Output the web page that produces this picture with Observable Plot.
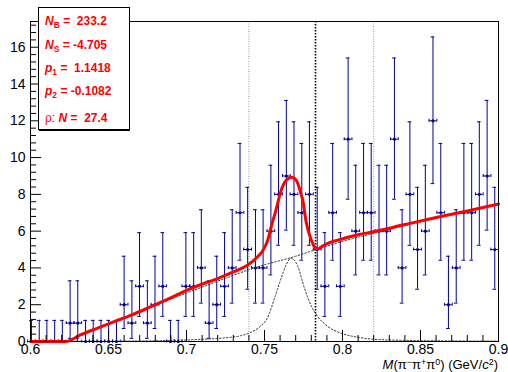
<!DOCTYPE html>
<html><head><meta charset="utf-8">
<script src="https://cdn.jsdelivr.net/npm/d3@7"></script>
<script src="https://cdn.jsdelivr.net/npm/@observablehq/plot@0.6"></script>
<style>
html,body{margin:0;padding:0;background:#fff;}
#chart{width:508px;height:372px;}
</style>
</head><body><div id="chart"></div>
<script>
// ---- data ----
const binMass = [0.6006,0.6056,0.6105,0.6155,0.6204,0.6254,0.6303,0.6353,0.6402,0.6452,
  0.6501,0.6551,0.6600,0.6650,0.6699,0.6749,0.6798,0.6848,0.6897,0.6947,
  0.6996,0.7046,0.7095,0.7145,0.7194,0.7244,0.7293,0.7343,0.7392,0.7442,
  0.7491,0.7541,0.7590,0.7640,0.7689,0.7739,0.7788,0.7838,0.7887,0.7937,
  0.7986,0.8036,0.8085,0.8135,0.8184,0.8234,0.8283,0.8333,0.8382,0.8432,
  0.8481,0.8531,0.8580,0.8630,0.8679,0.8729,0.8778,0.8828,0.8877,0.8927,0.8976];
const binCount = [0,0,0,0,0,1,1,0,0,0,
  0,0,2,1,3,1,2,3,0,0,
  3,3,4,1,2,3,4,7,5,4,
  4,6,8,9,8,7,8,5,3,7,
  3,11,6,7,7,6,6,11,4,8,
  5,6,12,7,2,4,7,7,8,9,5];
// Poisson (68.3%) asymmetric errors, indexed by count
const poissonErrLow  = [0,0.827,1.292,1.633,1.914,2.159,2.379,2.580,2.768,2.943,3.108,3.264,3.414];
const poissonErrHigh = [1.148,2.299,2.637,2.918,3.162,3.382,3.583,3.770,3.944,4.108,4.265,4.416,4.559];
const binHalfWidth = 0.002475;

// total fit (red)
const totalMass  = [0.600,0.6225,0.632,0.643,0.654,0.665,0.675,0.687,0.700,0.712,0.720,0.730,0.739,0.7456,0.749,0.752,0.7545,0.7575,0.7606,0.7638,0.7675,0.7705,0.7735,0.7745,0.7767,0.7799,0.782,0.7842,0.7865,0.7884,0.7991,0.810,0.8205,0.840,0.860,0.880,0.900];
const totalValue = [0,0,0.36,0.73,1.09,1.45,1.81,2.26,2.78,3.18,3.42,3.78,4.14,4.61,4.95,5.5,6.3,7.2,8.2,8.75,8.93,8.75,8.0,7.7,6.5,5.55,5.15,5.03,5.15,5.25,5.56,5.8,5.98,6.36,6.74,7.1,7.48];
// background (dotted)
const bgMass  = [0.600,0.6225,0.632,0.643,0.654,0.665,0.675,0.687,0.700,0.712,0.725,0.740,0.752,0.767,0.782,0.799,0.820,0.840,0.860,0.880,0.900];
const bgValue = [0,0,0.36,0.72,1.08,1.43,1.78,2.2,2.64,3.02,3.44,3.9,4.22,4.56,4.97,5.42,5.88,6.3,6.7,7.09,7.46];
// signal (dotted)
const sigMass  = [0.600,0.660,0.690,0.710,0.725,0.735,0.7413,0.747,0.752,0.757,0.7607,0.7638,0.767,0.7713,0.7756,0.7799,0.7842,0.7906,0.7991,0.810,0.8205,0.840,0.870,0.900];
const sigValue = [0,0.02,0.06,0.12,0.2,0.32,0.5,0.8,1.3,2.5,3.45,4.15,4.53,4.1,2.9,1.95,1.35,0.81,0.45,0.23,0.12,0.06,0.03,0.02];

const windowLines = [0.74, 0.82];
const omegaLine = [0.7827];

const xMajorTicks = [0.6,0.65,0.7,0.75,0.8,0.85,0.9];
const xMajorLabels = ["0.6","0.65","0.7","0.75","0.8","0.85","0.9"];
const xMinorTicks = [0.61,0.62,0.63,0.64,0.66,0.67,0.68,0.69,0.71,0.72,0.73,0.74,0.76,0.77,0.78,0.79,0.81,0.82,0.83,0.84,0.86,0.87,0.88,0.89];
const yMajorTicks = [0,2,4,6,8,10,12,14,16];
const yMajorLabels = ["0","2","4","6","8","10","12","14","16"];
const yMinorTicks = [0.4,0.8,1.2,1.6,2.4,2.8,3.2,3.6,4.4,4.8,5.2,5.6,6.4,6.8,7.2,7.6,8.4,8.8,9.2,9.6,10.4,10.8,11.2,11.6,12.4,12.8,13.2,13.6,14.4,14.8,15.2,15.6,16.4,16.8,17.2];

const legendEntries = [
  {sym:"N", sub:"B", pre:"", val:" =  233.2"},
  {sym:"N", sub:"S", pre:"", val:" = -4.705"},
  {sym:"p", sub:"1", pre:"", val:" =  1.1418"},
  {sym:"p", sub:"2", pre:"", val:" = -0.1082"},
  {sym:"N", sub:"", pre:"ρ: ", val:" =  27.4"}
];

// ---- build ----
const blue = "#000099";
const pts = binMass.map((m,i)=>{
  const n = binCount[i];
  return {m, n, lo: n - poissonErrLow[n], hi: n + poissonErrHigh[n]};
});
const toPts = (xs, ys) => xs.map((x,i)=>({x, y: ys[i]}));
const total = toPts(totalMass, totalValue);
const bg = toPts(bgMass, bgValue);
const sig = toPts(sigMass, sigValue);
const capW = 0.0012, capH = 0.08;
const font = "'Liberation Sans', Arial, Helvetica, sans-serif";

const plot = Plot.plot({
  width: 508, height: 372,
  marginLeft: 30, marginRight: 10, marginTop: 21, marginBottom: 31,
  x: {domain: [0.6, 0.9]},
  y: {domain: [0, 17.4]},
  style: {fontFamily: font, fontSize: "14px", background: "white", color: "black"},
  marks: [
    Plot.ruleX(windowLines, {stroke: "#999", strokeWidth: 1, strokeDasharray: "1,1.5"}),
    Plot.ruleX(omegaLine, {stroke: "#000", strokeWidth: 1.6, strokeDasharray: "1.5,1.5"}),
    // vertical error bars with caps
    Plot.ruleX(pts, {x: "m", y1: "lo", y2: "hi", stroke: blue, strokeWidth: 1}),
    Plot.ruleY(pts, {y: "hi", x1: d => d.m - capW, x2: d => d.m + capW, stroke: blue}),
    Plot.ruleY(pts, {y: "lo", x1: d => d.m - capW, x2: d => d.m + capW, stroke: blue}),
    // horizontal error bars with caps
    Plot.ruleY(pts, {y: "n", x1: d => d.m - binHalfWidth, x2: d => d.m + binHalfWidth, stroke: blue}),
    Plot.ruleX(pts, {x: d => d.m - binHalfWidth, y1: d => d.n - capH, y2: d => d.n + capH, stroke: blue}),
    Plot.ruleX(pts, {x: d => d.m + binHalfWidth, y1: d => d.n - capH, y2: d => d.n + capH, stroke: blue}),
    Plot.dot(pts, {x: "m", y: "n", r: 1.6, fill: blue, stroke: null}),
    // fit curves
    Plot.line(sig, {x: "x", y: "y", stroke: "#333", strokeWidth: 1, strokeDasharray: "1.5,2", curve: "monotone-x"}),
    Plot.line(bg, {x: "x", y: "y", stroke: "#333", strokeWidth: 1, strokeDasharray: "1.5,2", curve: "monotone-x"}),
    Plot.line(total, {x: "x", y: "y", stroke: "#ff0000", strokeWidth: 3, curve: "monotone-x"}),
    Plot.frame({stroke: "black", strokeWidth: 1}),
    // axes: ticks inside the frame
    Plot.axisX({ticks: xMinorTicks, tickSize: -6, tickFormat: () => "", label: null}),
    Plot.axisX({ticks: xMajorTicks, tickSize: -11, tickPadding: 14, label: null, fontSize: 14,
      tickFormat: d => xMajorLabels[xMajorTicks.indexOf(d)]}),
    Plot.axisY({ticks: yMinorTicks, tickSize: -6, tickFormat: () => "", label: null}),
    Plot.axisY({ticks: yMajorTicks, tickSize: -11, tickPadding: 16, label: null, fontSize: 14,
      tickFormat: d => yMajorLabels[yMajorTicks.indexOf(d)]})
  ]
});
document.getElementById("chart").appendChild(plot);

const svg = d3.select(plot);
const xs = plot.scale("x");

// axis title
const title = svg.append("text")
  .attr("x", xs.apply(0.9)).attr("y", 368.5)
  .attr("text-anchor", "end")
  .attr("font-family", font).attr("font-size", 13).attr("fill", "black");
const parts = [
  ["M", {italic: true}], ["(π"], ["−", {sup: true}], ["π"], ["+", {sup: true}], ["π"], ["0", {sup: true}],
  [") (GeV/"], ["c", {italic: true}], ["2", {sup: true}], [")"]
];
let shifted = false;
for (const [t, o = {}] of parts) {
  const ts = title.append("tspan").text(t);
  if (o.italic) ts.attr("font-style", "italic");
  if (o.sup) { ts.attr("font-size", 9).attr("dy", shifted ? 0 : -4); shifted = true; }
  else if (shifted) { ts.attr("dy", 4); shifted = false; }
}

// parameter box
const box = svg.append("g").attr("text-anchor", "start");
box.append("rect").attr("x", 38.5).attr("y", 7.5).attr("width", 91).attr("height", 122)
  .attr("fill", "white").attr("stroke", "black").attr("stroke-width", 1);
box.append("line").attr("x1", 39).attr("x2", 130).attr("y1", 130.5).attr("y2", 130.5)
  .attr("stroke", "black").attr("stroke-width", 1);
const baselines = [25, 49, 72, 95, 122];
legendEntries.forEach((e, i) => {
  const t = box.append("text").attr("x", 45).attr("y", baselines[i]).attr("text-anchor", "start")
    .attr("font-family", font).attr("font-size", 12).attr("font-weight", "bold").attr("fill", "#ff0000");
  if (e.pre) t.append("tspan").attr("font-weight", "normal").text(e.pre);
  t.append("tspan").attr("font-style", "italic").text(e.sym);
  if (e.sub) {
    t.append("tspan").attr("font-size", 8.5).attr("dy", 3).text(e.sub);
    t.append("tspan").attr("dy", -3).text(e.val);
  } else {
    t.append("tspan").text(e.val);
  }
});
</script>
</body></html>
